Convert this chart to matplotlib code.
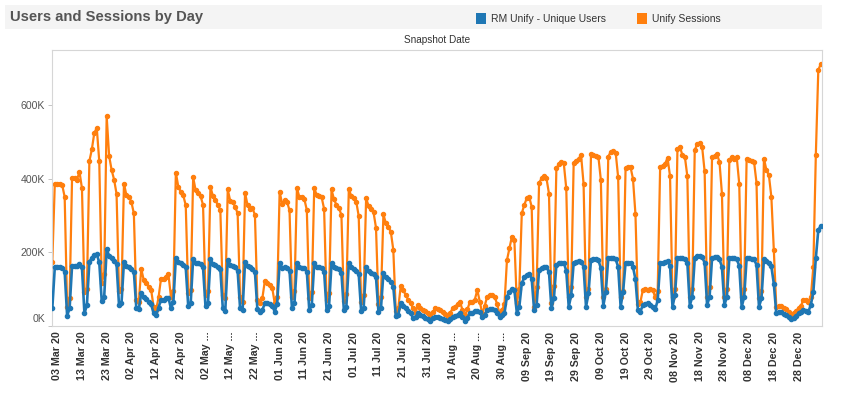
import matplotlib

matplotlib.use("Agg")
import matplotlib.pyplot as plt
import pandas as pd
from matplotlib.patches import Rectangle
from matplotlib.ticker import FuncFormatter
from matplotlib.transforms import ScaledTranslation

plt.rcParams["font.family"] = ["Liberation Sans", "DejaVu Sans"]

W, H = 847, 393
START_DATE = "2020-03-01"

# daily values in thousands; first entry is Sun 1 Mar 2020, then Mon..Sun weeks
sessions_k = [
    175,
    385, 387, 387, 383, 351, 52, 75,    # Mar 2
    403, 401, 398, 419, 374, 92, 100,   # Mar 9
    448, 480, 525, 538, 448, 118, 140,  # Mar 16
    570, 462, 424, 398, 359, 95, 100,   # Mar 23
    387, 355, 351, 337, 306, 70, 66,    # Mar 30
    155, 125, 118, 107, 98, 52, 43,     # Apr 6
    78, 129, 129, 134, 140, 80, 95,     # Apr 13
    417, 378, 365, 355, 328, 90, 98,    # Apr 20
    404, 369, 362, 353, 329, 85, 95,    # Apr 27
    378, 353, 342, 329, 315, 85, 75,    # May 4
    371, 340, 337, 324, 306, 80, 65,    # May 11
    362, 329, 318, 320, 302, 70, 62,    # May 18
    75, 122, 118, 112, 104, 62, 80,     # May 25
    365, 332, 342, 338, 314, 80, 95,    # Jun 1
    375, 350, 350, 345, 315, 75, 92,    # Jun 8
    375, 356, 353, 350, 318, 70, 90,    # Jun 15
    371, 344, 329, 320, 302, 68, 88,    # Jun 22
    372, 353, 347, 338, 299, 65, 85,    # Jun 29
    347, 326, 318, 309, 267, 60, 80,    # Jul 6
    303, 279, 270, 256, 207, 42, 48,    # Jul 13
    108, 99, 84, 72, 62, 48, 36,        # Jul 20
    57, 48, 43, 40, 36, 27, 38,         # Jul 27
    48, 45, 43, 39, 32, 25, 35,         # Aug 3
    48, 52, 60, 66, 43, 29, 45,         # Aug 10
    66, 66, 72, 98, 66, 34, 55,         # Aug 17
    80, 84, 84, 80, 60, 34, 43,         # Aug 24
    60, 179, 211, 243, 233, 62, 100,    # Aug 31
    306, 329, 347, 351, 324, 52, 105,   # Sep 7
    389, 401, 407, 401, 360, 62, 110,   # Sep 14
    428, 440, 446, 442, 374, 80, 105,   # Sep 21
    443, 449, 455, 464, 387, 80, 100,   # Sep 28
    467, 464, 462, 460, 397, 78, 100,   # Oct 5
    460, 474, 475, 471, 404, 78, 95,    # Oct 12
    428, 432, 432, 400, 304, 60, 65,    # Oct 19
    98, 100, 98, 100, 98, 78, 95,       # Oct 26
    432, 435, 441, 457, 407, 78, 100,   # Nov 2
    482, 487, 464, 460, 407, 78, 100,   # Nov 9
    478, 495, 497, 486, 420, 80, 105,   # Nov 16
    460, 462, 467, 446, 360, 78, 100,   # Nov 23
    451, 460, 455, 458, 387, 78, 100,   # Nov 30
    455, 451, 449, 446, 389, 75, 95,    # Dec 7
    455, 424, 410, 351, 207, 52, 55,    # Dec 14
    55, 50, 45, 38, 30, 34, 42,         # Dec 21
    48, 55, 72, 70, 66, 80, 161,        # Dec 28
    464, 695, 713,                      # Jan 4
]

users_k = [
    48,
    159, 161, 161, 157, 148, 28, 48,    # Mar 2
    164, 163, 163, 168, 159, 34, 57,    # Mar 9
    175, 184, 193, 195, 173, 68, 80,    # Mar 16
    208, 191, 184, 177, 168, 57, 62,    # Mar 23
    175, 163, 161, 155, 148, 48, 45,    # Mar 30
    89, 78, 73, 66, 59, 34, 29,         # Apr 6
    50, 72, 72, 75, 77, 48, 66,         # Apr 13
    186, 174, 170, 165, 159, 55, 62,    # Apr 20
    183, 172, 170, 168, 159, 53, 62,    # Apr 27
    181, 168, 165, 161, 154, 48, 42,    # May 4
    179, 166, 163, 159, 150, 48, 43,    # May 11
    174, 163, 159, 156, 147, 45, 39,    # May 18
    43, 62, 62, 60, 55, 39, 60,         # May 25
    172, 158, 160, 158, 150, 48, 62,    # Jun 1
    170, 160, 158, 157, 148, 43, 57,    # Jun 8
    170, 161, 159, 157, 148, 43, 55,    # Jun 15
    170, 159, 157, 154, 145, 43, 52,    # Jun 22
    170, 159, 154, 150, 141, 40, 50,    # Jun 29
    159, 150, 145, 141, 132, 38, 48,    # Jul 6
    143, 134, 129, 120, 107, 28, 30,    # Jul 13
    62, 55, 48, 42, 36, 21, 25,         # Jul 20
    34, 30, 27, 22, 18, 14, 21,         # Jul 27
    25, 24, 23, 20, 16, 14, 18,         # Aug 3
    24, 27, 30, 36, 24, 14, 22,         # Aug 10
    34, 36, 40, 42, 38, 24, 30,         # Aug 17
    43, 45, 45, 43, 35, 25, 30,         # Aug 24
    35, 80, 93, 100, 98, 36, 52,        # Aug 31
    116, 132, 138, 141, 129, 43, 57,    # Sep 7
    152, 157, 161, 161, 147, 48, 75,    # Sep 14
    166, 170, 172, 172, 150, 52, 84,    # Sep 21
    172, 175, 177, 175, 161, 52, 89,    # Sep 28
    179, 181, 181, 179, 157, 55, 93,    # Oct 5
    184, 184, 184, 181, 161, 52, 93,    # Oct 12
    172, 172, 172, 161, 127, 43, 39,    # Oct 19
    57, 60, 62, 57, 52, 45, 70,         # Oct 26
    170, 172, 175, 177, 164, 52, 85,    # Nov 2
    184, 186, 184, 181, 172, 55, 80,    # Nov 9
    184, 190, 190, 187, 172, 57, 79,    # Nov 16
    184, 187, 187, 181, 161, 57, 79,    # Nov 23
    184, 184, 184, 181, 164, 52, 79,    # Nov 30
    184, 184, 181, 181, 166, 52, 75,    # Dec 7
    181, 177, 172, 162, 115, 34, 37,    # Dec 14
    38, 33, 30, 25, 18, 22, 28,         # Dec 21
    34, 38, 43, 41, 39, 58, 93,         # Dec 28
    184, 261, 272,                      # Jan 4
]

tick_labels = [
    "03 Mar 20", "13 Mar 20", "23 Mar 20", "02 Apr 20", "12 Apr 20", "22 Apr 20",
    "02 May ...", "12 May ...", "22 May ...", "01 Jun 20", "11 Jun 20", "21 Jun 20",
    "01 Jul 20", "11 Jul 20", "21 Jul 20", "31 Jul 20", "10 Aug ...", "20 Aug ...",
    "30 Aug ...", "09 Sep 20", "19 Sep 20", "29 Sep 20", "09 Oct 20", "19 Oct 20",
    "29 Oct 20", "08 Nov 20", "18 Nov 20", "28 Nov 20", "08 Dec 20", "18 Dec 20",
    "28 Dec 20",
]
y_ticks_k = [0, 200, 400, 600]

BLUE = "#1f77b4"
ORANGE = "#ff7f0e"


def fx(px):
    return px / W


def fy(px):
    return 1 - px / H


def main():
    dates = pd.date_range(START_DATE, periods=len(sessions_k), freq="D")
    tick_dates = pd.date_range("2020-03-03", periods=len(tick_labels), freq="10D")

    fig = plt.figure(figsize=(W / 100, H / 100), dpi=100)

    # header band, title and legend
    fig.patches.append(Rectangle((fx(5), fy(29)), fx(817), 24 / H, transform=fig.transFigure,
                                 facecolor="#f4f4f4", edgecolor="none", zorder=0))
    fig.text(fx(10), fy(17), "Users and Sessions by Day", fontsize=10.6, fontweight="bold",
             color="#555555", va="center", ha="left")
    for x0, color, label in [(476, BLUE, "RM Unify - Unique Users"), (637, ORANGE, "Unify Sessions")]:
        fig.patches.append(Rectangle((fx(x0), fy(24)), fx(10), 11 / H, transform=fig.transFigure,
                                     facecolor=color, edgecolor="none"))
        fig.text(fx(x0 + 15), fy(19), label, fontsize=7.5, color="#333333", va="center", ha="left")
    fig.text(fx(437), fy(40), "Snapshot Date", fontsize=7.2, color="#333333", va="center", ha="center")

    ax = fig.add_axes([fx(52), fy(326), fx(770), 276 / H])
    ax.plot(dates, sessions_k, color=ORANGE, linewidth=1.6, marker="o", markersize=2.9, zorder=2)
    ax.plot(dates, users_k, color=BLUE, linewidth=1.9, marker="o", markersize=3.0, zorder=3)

    ax.set_xlim(dates[0] - pd.Timedelta(hours=3), dates[-1] + pd.Timedelta(hours=12))
    ax.set_ylim(0, 750)
    ax.set_yticks(y_ticks_k)
    ax.yaxis.set_major_formatter(FuncFormatter(lambda v, _: f"{v:.0f}K"))
    ax.set_xticks(tick_dates)
    ax.set_xticklabels(tick_labels, rotation=90, ha="center", va="top", fontweight="bold",
                       fontsize=7.7, color="#333333")

    for spine in ax.spines.values():
        spine.set_color("#d6d6d6")
        spine.set_linewidth(0.8)
    ax.tick_params(axis="x", length=0, pad=4)
    ax.tick_params(axis="y", length=3, width=0.6, color="#bbbbbb", pad=2, labelsize=7.6,
                   labelcolor="#555555")

    # nudge the bottom label up like the original
    zero_label = ax.get_yticklabels()[0]
    zero_label.set_transform(zero_label.get_transform() + ScaledTranslation(0, 0.08, fig.dpi_scale_trans))

    fig.savefig("out.png", dpi=100)
    plt.close(fig)


if __name__ == "__main__":
    main()
